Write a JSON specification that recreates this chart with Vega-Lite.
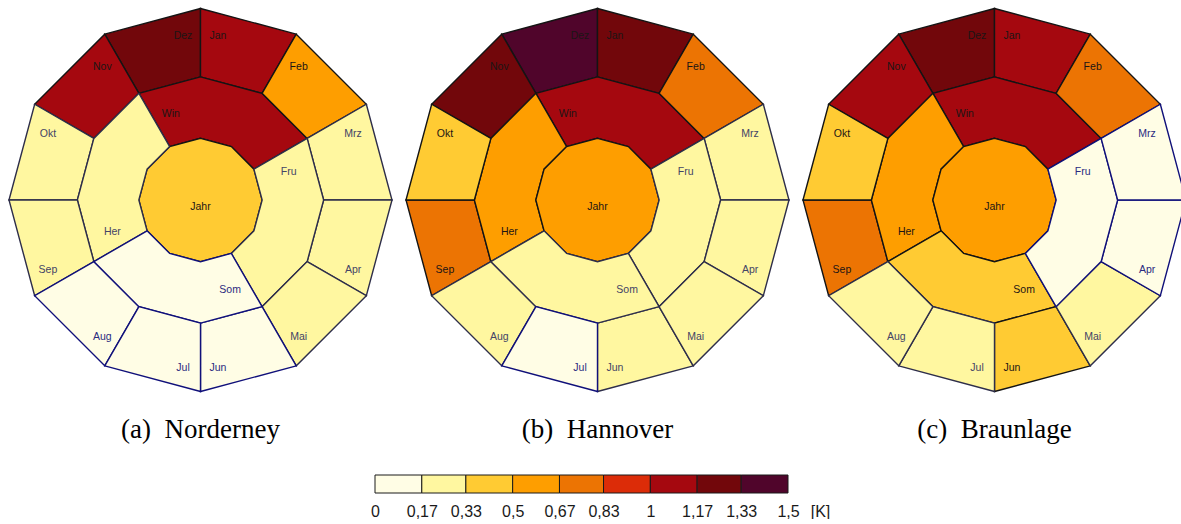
{
  "$schema": "https://vega.github.io/schema/vega-lite/v6.json",
  "padding": {"left": 2, "top": 0, "right": 0, "bottom": 0},
  "background": "white",
  "config": {"view": {"stroke": null, "fill": "white"}, "font": "Liberation Sans"},
  "spacing": 31,
  "vconcat": [
    {
      "data": {
        "values": [
          {"station": "Norderney", "ring": "Monat", "cell": "Jan", "nr": 1, "value": 1.12},
          {"station": "Norderney", "ring": "Monat", "cell": "Feb", "nr": 2, "value": 0.64},
          {"station": "Norderney", "ring": "Monat", "cell": "Mrz", "nr": 3, "value": 0.3},
          {"station": "Norderney", "ring": "Monat", "cell": "Apr", "nr": 4, "value": 0.26},
          {"station": "Norderney", "ring": "Monat", "cell": "Mai", "nr": 5, "value": 0.22},
          {"station": "Norderney", "ring": "Monat", "cell": "Jun", "nr": 6, "value": 0.12},
          {"station": "Norderney", "ring": "Monat", "cell": "Jul", "nr": 7, "value": 0.1},
          {"station": "Norderney", "ring": "Monat", "cell": "Aug", "nr": 8, "value": 0.14},
          {"station": "Norderney", "ring": "Monat", "cell": "Sep", "nr": 9, "value": 0.22},
          {"station": "Norderney", "ring": "Monat", "cell": "Okt", "nr": 10, "value": 0.3},
          {"station": "Norderney", "ring": "Monat", "cell": "Nov", "nr": 11, "value": 1.1},
          {"station": "Norderney", "ring": "Monat", "cell": "Dez", "nr": 12, "value": 1.27},
          {"station": "Norderney", "ring": "Jahreszeit", "cell": "Win", "nr": 1, "value": 1.01},
          {"station": "Norderney", "ring": "Jahreszeit", "cell": "Fru", "nr": 2, "value": 0.26},
          {"station": "Norderney", "ring": "Jahreszeit", "cell": "Som", "nr": 3, "value": 0.12},
          {"station": "Norderney", "ring": "Jahreszeit", "cell": "Her", "nr": 4, "value": 0.27},
          {"station": "Norderney", "ring": "Jahr", "cell": "Jahr", "nr": 1, "value": 0.45},
          {"station": "Hannover", "ring": "Monat", "cell": "Jan", "nr": 1, "value": 1.24},
          {"station": "Hannover", "ring": "Monat", "cell": "Feb", "nr": 2, "value": 0.72},
          {"station": "Hannover", "ring": "Monat", "cell": "Mrz", "nr": 3, "value": 0.3},
          {"station": "Hannover", "ring": "Monat", "cell": "Apr", "nr": 4, "value": 0.24},
          {"station": "Hannover", "ring": "Monat", "cell": "Mai", "nr": 5, "value": 0.2},
          {"station": "Hannover", "ring": "Monat", "cell": "Jun", "nr": 6, "value": 0.22},
          {"station": "Hannover", "ring": "Monat", "cell": "Jul", "nr": 7, "value": 0.12},
          {"station": "Hannover", "ring": "Monat", "cell": "Aug", "nr": 8, "value": 0.25},
          {"station": "Hannover", "ring": "Monat", "cell": "Sep", "nr": 9, "value": 0.7},
          {"station": "Hannover", "ring": "Monat", "cell": "Okt", "nr": 10, "value": 0.45},
          {"station": "Hannover", "ring": "Monat", "cell": "Nov", "nr": 11, "value": 1.22},
          {"station": "Hannover", "ring": "Monat", "cell": "Dez", "nr": 12, "value": 1.4},
          {"station": "Hannover", "ring": "Jahreszeit", "cell": "Win", "nr": 1, "value": 1.1},
          {"station": "Hannover", "ring": "Jahreszeit", "cell": "Fru", "nr": 2, "value": 0.26},
          {"station": "Hannover", "ring": "Jahreszeit", "cell": "Som", "nr": 3, "value": 0.22},
          {"station": "Hannover", "ring": "Jahreszeit", "cell": "Her", "nr": 4, "value": 0.6},
          {"station": "Hannover", "ring": "Jahr", "cell": "Jahr", "nr": 1, "value": 0.56},
          {"station": "Braunlage", "ring": "Monat", "cell": "Jan", "nr": 1, "value": 1.1},
          {"station": "Braunlage", "ring": "Monat", "cell": "Feb", "nr": 2, "value": 0.74},
          {"station": "Braunlage", "ring": "Monat", "cell": "Mrz", "nr": 3, "value": 0.1},
          {"station": "Braunlage", "ring": "Monat", "cell": "Apr", "nr": 4, "value": 0.12},
          {"station": "Braunlage", "ring": "Monat", "cell": "Mai", "nr": 5, "value": 0.24},
          {"station": "Braunlage", "ring": "Monat", "cell": "Jun", "nr": 6, "value": 0.4},
          {"station": "Braunlage", "ring": "Monat", "cell": "Jul", "nr": 7, "value": 0.28},
          {"station": "Braunlage", "ring": "Monat", "cell": "Aug", "nr": 8, "value": 0.26},
          {"station": "Braunlage", "ring": "Monat", "cell": "Sep", "nr": 9, "value": 0.74},
          {"station": "Braunlage", "ring": "Monat", "cell": "Okt", "nr": 10, "value": 0.44},
          {"station": "Braunlage", "ring": "Monat", "cell": "Nov", "nr": 11, "value": 1.08},
          {"station": "Braunlage", "ring": "Monat", "cell": "Dez", "nr": 12, "value": 1.26},
          {"station": "Braunlage", "ring": "Jahreszeit", "cell": "Win", "nr": 1, "value": 1.06},
          {"station": "Braunlage", "ring": "Jahreszeit", "cell": "Fru", "nr": 2, "value": 0.12},
          {"station": "Braunlage", "ring": "Jahreszeit", "cell": "Som", "nr": 3, "value": 0.42},
          {"station": "Braunlage", "ring": "Jahreszeit", "cell": "Her", "nr": 4, "value": 0.6},
          {"station": "Braunlage", "ring": "Jahr", "cell": "Jahr", "nr": 1, "value": 0.55}
        ]
      },
      "facet": {
        "column": {
          "field": "station",
          "type": "nominal",
          "sort": ["Norderney", "Hannover", "Braunlage"],
          "title": null,
          "header": {
            "labelOrient": "bottom",
            "labelFont": "Liberation Serif",
            "labelFontSize": 27,
            "labelColor": "#000000",
            "labelPadding": 16.5,
            "labelExpr": "datum.value == 'Norderney' ? '(a)\u00a0 Norderney' : datum.value == 'Hannover' ? '(b)\u00a0 Hannover' : '(c)\u00a0 Braunlage'"
          }
        }
      },
      "spacing": 0,
      "spec": {
        "width": 397,
        "height": 400,
        "resolve": {"scale": {"theta": "independent"}},
        "layer": [
          {
            "mark": {"type": "point", "filled": true, "size": 146689, "opacity": 1, "strokeWidth": 1.4},
            "encoding": {
              "shape": {
                "field": "cell",
                "type": "nominal",
                "legend": null,
                "scale": {
                  "domain": ["Jan", "Feb", "Mrz", "Apr", "Mai", "Jun", "Jul", "Aug", "Sep", "Okt", "Nov", "Dez", "Win", "Fru", "Som", "Her", "Jahr"],
                  "range": [
                    "M0,-1L0.5,-0.866L0.3215,-0.5569L0,-0.643Z",
                    "M0.5,-0.866L0.866,-0.5L0.5569,-0.3215L0.3215,-0.5569Z",
                    "M0.866,-0.5L1,0L0.643,0L0.5569,-0.3215Z",
                    "M1,0L0.866,0.5L0.5569,0.3215L0.643,0Z",
                    "M0.866,0.5L0.5,0.866L0.3215,0.5569L0.5569,0.3215Z",
                    "M0.5,0.866L0,1L0,0.643L0.3215,0.5569Z",
                    "M0,1L-0.5,0.866L-0.3215,0.5569L0,0.643Z",
                    "M-0.5,0.866L-0.866,0.5L-0.5569,0.3215L-0.3215,0.5569Z",
                    "M-0.866,0.5L-1,0L-0.643,0L-0.5569,0.3215Z",
                    "M-1,0L-0.866,-0.5L-0.5569,-0.3215L-0.643,0Z",
                    "M-0.866,-0.5L-0.5,-0.866L-0.3215,-0.5569L-0.5569,-0.3215Z",
                    "M-0.5,-0.866L0,-1L0,-0.643L-0.3215,-0.5569Z",
                    "M-0.3215,-0.5569L0,-0.643L0.3215,-0.5569L0.5569,-0.3215L0.2789,-0.161L0.161,-0.2789L0,-0.322L-0.161,-0.2789Z",
                    "M0.5569,-0.3215L0.643,0L0.5569,0.3215L0.3215,0.5569L0.161,0.2789L0.2789,0.161L0.322,0L0.2789,-0.161Z",
                    "M0.3215,0.5569L0,0.643L-0.3215,0.5569L-0.5569,0.3215L-0.2789,0.161L-0.161,0.2789L0,0.322L0.161,0.2789Z",
                    "M-0.5569,0.3215L-0.643,0L-0.5569,-0.3215L-0.3215,-0.5569L-0.161,-0.2789L-0.2789,-0.161L-0.322,0L-0.2789,0.161Z",
                    "M0,-0.322L0.161,-0.2789L0.2789,-0.161L0.322,0L0.2789,0.161L0.161,0.2789L0,0.322L-0.161,0.2789L-0.2789,0.161L-0.322,0L-0.2789,-0.161L-0.161,-0.2789Z"
                  ]
                }
              },
              "color": {
                "field": "value",
                "type": "quantitative",
                "legend": null,
                "scale": {
                  "type": "threshold",
                  "domain": [0.17, 0.33, 0.5, 0.67, 0.83, 1, 1.17, 1.33],
                  "range": ["#FFFDE5", "#FFF7A0", "#FFCB33", "#FE9E00", "#EC7403", "#DC2C08", "#A5080F", "#72070B", "#50052B"]
                }
              },
              "stroke": {
                "field": "value",
                "type": "quantitative",
                "legend": null,
                "scale": {"type": "threshold", "domain": [0.17, 0.33], "range": ["#10107A", "#2E2E4A", "#141414"]}
              },
              "order": {"field": "value", "type": "quantitative", "sort": "descending"}
            }
          },
          {
            "transform": [{"filter": "datum.ring == 'Monat'"}],
            "mark": {"type": "text", "radius": 167, "thetaOffset": -0.157, "dy": 2, "fontSize": 10.5, "align": "center", "baseline": "middle"},
            "encoding": {
              "theta": {"aggregate": "count", "type": "quantitative", "stack": true},
              "order": {"field": "nr", "type": "quantitative", "sort": "ascending"},
              "detail": {"field": "cell", "type": "nominal"},
              "text": {"condition": {"test": "datum.nr <= 3 || (datum.nr >= 7 && datum.nr <= 9)", "field": "cell", "type": "nominal"}, "value": ""},
              "fill": {
                "field": "value",
                "type": "quantitative",
                "legend": null,
                "scale": {"type": "threshold", "domain": [0.17, 0.33], "range": ["#2A2A80", "#444466", "#1C1515"]}
              }
            }
          },
          {
            "transform": [{"filter": "datum.ring == 'Monat'"}],
            "mark": {"type": "text", "radius": 167, "thetaOffset": 0.157, "dy": 2, "fontSize": 10.5, "align": "center", "baseline": "middle"},
            "encoding": {
              "theta": {"aggregate": "count", "type": "quantitative", "stack": true},
              "order": {"field": "nr", "type": "quantitative", "sort": "ascending"},
              "detail": {"field": "cell", "type": "nominal"},
              "text": {"condition": {"test": "(datum.nr >= 4 && datum.nr <= 6) || datum.nr >= 10", "field": "cell", "type": "nominal"}, "value": ""},
              "fill": {
                "field": "value",
                "type": "quantitative",
                "legend": null,
                "scale": {"type": "threshold", "domain": [0.17, 0.33], "range": ["#2A2A80", "#444466", "#1C1515"]}
              }
            }
          },
          {
            "transform": [{"filter": "datum.ring == 'Jahreszeit'"}],
            "mark": {"type": "text", "radius": 93, "thetaOffset": -1.11, "dy": 2, "fontSize": 10.5, "align": "center", "baseline": "middle"},
            "encoding": {
              "theta": {"aggregate": "count", "type": "quantitative", "stack": true},
              "order": {"field": "nr", "type": "quantitative", "sort": "ascending"},
              "text": {"field": "cell", "type": "nominal"},
              "fill": {
                "field": "value",
                "type": "quantitative",
                "legend": null,
                "scale": {"type": "threshold", "domain": [0.17, 0.33], "range": ["#2A2A80", "#444466", "#1C1515"]}
              }
            }
          },
          {
            "transform": [{"filter": "datum.ring == 'Jahr'"}],
            "mark": {"type": "text", "dy": 7, "fontSize": 10.5, "align": "center", "baseline": "middle"},
            "encoding": {
              "text": {"field": "cell", "type": "nominal"},
              "fill": {
                "field": "value",
                "type": "quantitative",
                "legend": null,
                "scale": {"type": "threshold", "domain": [0.17, 0.33], "range": ["#2A2A80", "#444466", "#1C1515"]}
              }
            }
          }
        ]
      }
    },
    {
      "width": 1179,
      "height": 18,
      "data": {
        "values": [
          {"lo": 0, "hi": 0.17},
          {"lo": 0.17, "hi": 0.33},
          {"lo": 0.33, "hi": 0.5},
          {"lo": 0.5, "hi": 0.67},
          {"lo": 0.67, "hi": 0.83},
          {"lo": 0.83, "hi": 1},
          {"lo": 1, "hi": 1.17},
          {"lo": 1.17, "hi": 1.33},
          {"lo": 1.33, "hi": 1.5}
        ]
      },
      "mark": {"type": "rect", "stroke": "#1A1A1A", "strokeWidth": 1},
      "encoding": {
        "x": {
          "field": "lo",
          "type": "quantitative",
          "scale": {"domain": [0, 1.5], "range": [373, 786]},
          "axis": {
            "values": [0, 0.17, 0.33, 0.5, 0.67, 0.83, 1, 1.17, 1.33, 1.5],
            "labelExpr": "replace(format(datum.value, '.2~f'), '.', ',')",
            "domain": false,
            "ticks": false,
            "grid": false,
            "labelFlush": false,
            "labelOverlap": false,
            "labelFont": "Liberation Sans",
            "labelFontSize": 16,
            "labelColor": "#1A1A1A",
            "labelPadding": 10,
            "title": "[K]",
            "titleFont": "Liberation Sans",
            "titleFontSize": 16,
            "titleFontWeight": "normal",
            "titleColor": "#1A1A1A",
            "titleAlign": "center",
            "titleBaseline": "top",
            "titleX": 818,
            "titleY": 10
          }
        },
        "x2": {"field": "hi"},
        "color": {
          "field": "lo",
          "type": "quantitative",
          "legend": null,
          "scale": {
            "type": "threshold",
            "domain": [0.17, 0.33, 0.5, 0.67, 0.83, 1, 1.17, 1.33],
            "range": ["#FFFDE5", "#FFF7A0", "#FFCB33", "#FE9E00", "#EC7403", "#DC2C08", "#A5080F", "#72070B", "#50052B"]
          }
        }
      }
    }
  ]
}
